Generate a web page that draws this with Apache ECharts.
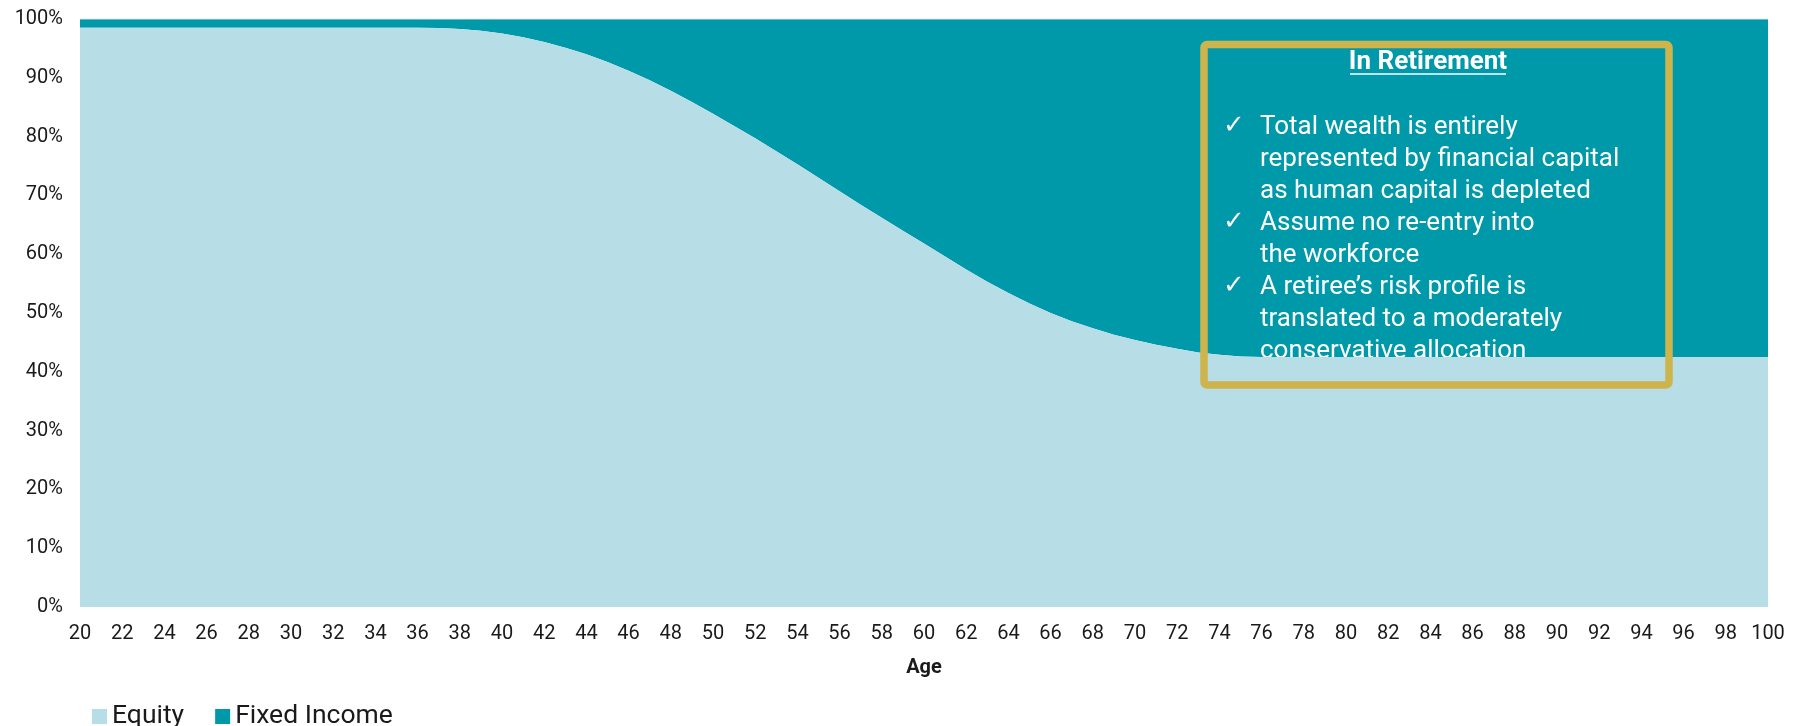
<!DOCTYPE html>
<html>
<head>
<meta charset="utf-8">
<title>Asset allocation by age</title>
<script src="https://cdn.jsdelivr.net/npm/echarts@6/dist/echarts.min.js"></script>
<style>
  html, body { margin: 0; padding: 0; background: #ffffff; }
  #chart { width: 1803px; height: 726px; }
</style>
</head>
<body>
<div id="chart"></div>
<script>
// Ages on the horizontal axis (one category per year, labelled every second year)
const ages = [];
for (let a = 20; a <= 100; a++) ages.push(String(a));

// Equity share of the portfolio (%) at each age 20..100
const equity = [
  98.5, 98.5, 98.5, 98.5, 98.5, 98.5, 98.5, 98.5, 98.5, 98.5, // 20-29
  98.5, 98.5, 98.5, 98.5, 98.5, 98.5, 98.5, 98.45, 98.3, 98.0, // 30-39
  97.55, 96.9, 96.1, 95.1, 94.0, 92.7, 91.2, 89.6, 87.8, 85.9, // 40-49
  83.9, 81.8, 79.7, 77.5, 75.3, 73.0, 70.7, 68.4, 66.2, 64.0, // 50-59
  61.8, 59.6, 57.4, 55.3, 53.4, 51.6, 50.0, 48.6, 47.4, 46.3, // 60-69
  45.4, 44.6, 43.9, 43.3, 42.9, 42.6, 42.5, 42.5, 42.5, 42.5, // 70-79
  42.5, 42.5, 42.5, 42.5, 42.5, 42.5, 42.5, 42.5, 42.5, 42.5, // 80-89
  42.5, 42.5, 42.5, 42.5, 42.5, 42.5, 42.5, 42.5, 42.5, 42.5, // 90-99
  42.5                                                        // 100
];

// Fixed income takes the remainder of the portfolio
const fixedIncome = equity.map(v => +(100 - v).toFixed(2));

const seriesNames = ['Equity', 'Fixed Income'];

const boxTitle = 'In Retirement';
const boxLines = [
  'Total wealth is entirely',
  'represented by financial capital',
  'as human capital is depleted',
  'Assume no re-entry into',
  'the workforce',
  'A retiree\u2019s risk profile is',
  'translated to a moderately',
  'conservative allocation'
];
// index of the lines that start a new bullet
const bulletStarts = [0, 3, 5];

const FONT = 'Roboto, "Noto Sans", sans-serif';
const COLOR_EQUITY = '#B7DDE7';
const COLOR_FIXED = '#0099AA';
const COLOR_GOLD = '#CDB44C';

const chart = echarts.init(document.getElementById('chart'), null, { renderer: 'canvas' });

// Annotation panel
const LINE_H = 32;
const TEXT_TOP = 111;
const graphics = [
  {
    type: 'text', z: 5, x: 1428, y: 62,
    style: {
      text: boxTitle, fill: '#ffffff', font: 'bold 26px ' + FONT,
      align: 'center', verticalAlign: 'middle'
    }
  },
  {
    type: 'line', z: 5,
    shape: { x1: 1350, y1: 74, x2: 1506, y2: 74 },
    style: { stroke: '#ffffff', lineWidth: 1.5 }
  },
  {
    // body text sits between the two areas so the equity fill hides what runs below it
    type: 'text', z: 2, x: 1260, y: TEXT_TOP,
    style: {
      text: boxLines.join('\n'), fill: '#ffffff',
      font: '26px ' + FONT, lineHeight: LINE_H, verticalAlign: 'top'
    }
  },
  {
    type: 'rect', z: 6,
    shape: { x: 1204, y: 44.5, width: 465, height: 340.5, r: 3 },
    style: { fill: 'none', stroke: COLOR_GOLD, lineWidth: 7.5 }
  }
];
bulletStarts.forEach(i => {
  graphics.push({
    type: 'text', z: 2, x: 1234, y: TEXT_TOP + i * LINE_H + LINE_H / 2 - 1,
    style: {
      text: '\u2713', fill: '#ffffff', font: '26px "DejaVu Sans", sans-serif',
      align: 'center', verticalAlign: 'middle'
    }
  });
});

const option = {
  animation: false,
  backgroundColor: '#ffffff',
  textStyle: { fontFamily: FONT },
  grid: { left: 80, right: 35, top: 19, bottom: 119, containLabel: false },
  legend: {
    data: seriesNames,
    left: 87, top: 698,
    icon: 'rect', itemWidth: 15, itemHeight: 15, itemGap: 31,
    textStyle: { fontFamily: FONT, fontSize: 26.5, color: '#1a1a1a' }
  },
  xAxis: {
    type: 'category',
    data: ages,
    boundaryGap: false,
    name: 'Age',
    nameLocation: 'middle',
    nameGap: 51,
    nameTextStyle: { fontFamily: FONT, fontSize: 20, fontWeight: 'bold', color: '#1a1a1a' },
    axisLine: { show: false },
    axisTick: { show: false },
    axisLabel: {
      interval: 1, margin: 17,
      fontFamily: FONT, fontSize: 20, color: '#1a1a1a'
    },
    splitLine: { show: false }
  },
  yAxis: {
    type: 'value',
    min: 0, max: 100, interval: 10,
    axisLine: { show: false },
    axisTick: { show: false },
    splitLine: { show: false },
    axisLabel: {
      formatter: '{value}%', margin: 17,
      fontFamily: FONT, fontSize: 20, color: '#1a1a1a'
    }
  },
  series: [
    {
      name: seriesNames[0],
      type: 'line',
      stack: 'mix',
      z: 3,
      data: equity,
      symbol: 'none',
      smooth: false,
      lineStyle: { width: 0 },
      itemStyle: { color: COLOR_EQUITY },
      areaStyle: { color: COLOR_EQUITY, opacity: 1 }
    },
    {
      name: seriesNames[1],
      type: 'line',
      stack: 'mix',
      z: 1,
      data: fixedIncome,
      symbol: 'none',
      smooth: false,
      lineStyle: { width: 1, color: '#D5DCE0' },
      itemStyle: { color: COLOR_FIXED },
      areaStyle: { color: COLOR_FIXED, opacity: 1 }
    }
  ],
  graphic: { elements: graphics }
};

chart.setOption(option);
</script>
</body>
</html>
